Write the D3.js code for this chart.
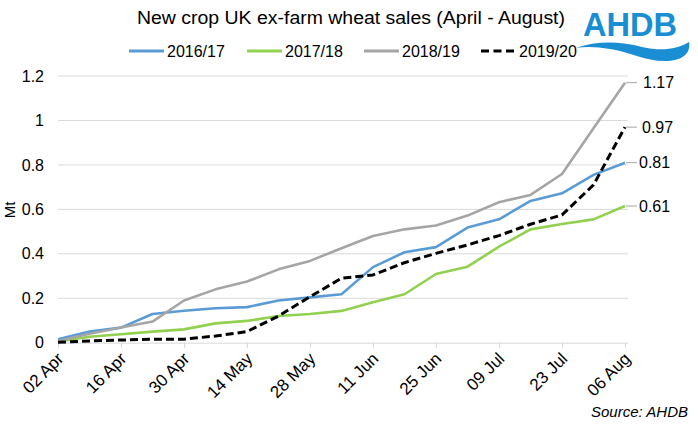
<!DOCTYPE html>
<html lang="en">
<head>
<meta charset="UTF-8">
<title>New crop UK ex-farm wheat sales</title>
<script src="https://d3js.org/d3.v7.min.js"></script>
<style>
    body { margin: 0; padding: 0; background: #fff; }
    svg { display: block; font-family: 'Liberation Sans', Arial, sans-serif; }
</style>
</head>
<body>
<svg id="chart" width="698" height="432"></svg>
<script>
    // weekly dates, 02 Apr to 06 Aug
    const weeks = ["02 Apr", "09 Apr", "16 Apr", "23 Apr", "30 Apr", "07 May", "14 May", "21 May",
        "28 May", "04 Jun", "11 Jun", "18 Jun", "25 Jun", "02 Jul", "09 Jul", "16 Jul",
        "23 Jul", "30 Jul", "06 Aug"];
    const tickLabels = ["02 Apr", "16 Apr", "30 Apr", "14 May", "28 May", "11 Jun", "25 Jun", "09 Jul", "23 Jul", "06 Aug"];
    const yTicks = [0, 0.2, 0.4, 0.6, 0.8, 1, 1.2];

    const sales1617 = [0.015, 0.05, 0.068, 0.129, 0.144, 0.155, 0.16, 0.19, 0.204, 0.218,
        0.34, 0.407, 0.43, 0.518, 0.555, 0.638, 0.672, 0.755, 0.81];
    const sales1718 = [0.005, 0.027, 0.038, 0.05, 0.06, 0.087, 0.098, 0.12, 0.129, 0.143,
        0.182, 0.218, 0.309, 0.342, 0.432, 0.51, 0.534, 0.555, 0.615];
    const sales1819 = [0.008, 0.04, 0.068, 0.095, 0.19, 0.24, 0.275, 0.33, 0.368, 0.425,
        0.48, 0.51, 0.527, 0.572, 0.632, 0.665, 0.759, 0.965, 1.17];
    const sales1920 = [0.002, 0.008, 0.012, 0.016, 0.016, 0.03, 0.05, 0.12, 0.207, 0.29,
        0.305, 0.36, 0.402, 0.44, 0.482, 0.533, 0.575, 0.71, 0.97];

    const seriesNames = ["2016/17", "2017/18", "2018/19", "2019/20"];
    const endLabels = ["0.81", "0.61", "1.17", "0.97"];

    const series = [
        { name: seriesNames[0], values: sales1617, color: "#5b9bd5", dash: null, label: endLabels[0] },
        { name: seriesNames[1], values: sales1718, color: "#92d050", dash: null, label: endLabels[1] },
        { name: seriesNames[2], values: sales1819, color: "#a5a5a5", dash: null, label: endLabels[2] },
        { name: seriesNames[3], values: sales1920, color: "#000000", dash: "8,4", label: endLabels[3] }
    ];

    const svg = d3.select("#chart");

    const x = d3.scalePoint().domain(weeks).range([58, 625]);
    const y = d3.scaleLinear().domain([0, 1.2]).range([342.7, 76]);

    // gridlines
    svg.append("g").selectAll("line")
        .data(yTicks.filter(d => d > 0))
        .enter().append("line")
        .attr("x1", 58).attr("x2", 628)
        .attr("y1", d => y(d)).attr("y2", d => y(d))
        .attr("stroke", "#d9d9d9").attr("stroke-width", 1);

    // y axis labels
    const yAxis = d3.axisLeft(y).tickValues(yTicks).tickSize(0).tickPadding(0)
        .tickFormat(d => d3.format("")(d));
    svg.append("g")
        .attr("transform", "translate(44,0)")
        .call(yAxis)
        .call(g => g.select(".domain").remove())
        .call(g => g.selectAll("text")
            .attr("font-size", 16).attr("fill", "#000")
            .attr("font-family", "'Liberation Sans', Arial, sans-serif"));

    svg.append("text")
        .attr("transform", "translate(15,210) rotate(-90)")
        .attr("text-anchor", "middle")
        .attr("font-size", 15)
        .text("Mt");

    // x axis
    const xAxis = d3.axisBottom(x).tickValues(tickLabels).tickSize(5).tickSizeOuter(0);
    const xg = svg.append("g")
        .attr("transform", "translate(0," + y(0) + ")")
        .call(xAxis);
    xg.select(".domain").attr("stroke", "#d9d9d9").attr("d", "M58,0.5H628");
    xg.selectAll(".tick line").attr("stroke", "#d9d9d9");
    xg.selectAll(".tick text")
        .attr("font-size", 17)
        .attr("font-family", "'Liberation Sans', Arial, sans-serif")
        .attr("fill", "#000")
        .attr("text-anchor", "end")
        .attr("dy", null)
        .attr("y", 0)
        .attr("transform", "translate(6,17) rotate(-45)");

    // lines
    const line = d3.line()
        .x((d, i) => x(weeks[i]))
        .y(d => y(d));

    svg.append("g").selectAll("path")
        .data(series)
        .enter().append("path")
        .attr("d", d => line(d.values))
        .attr("fill", "none")
        .attr("stroke", d => d.color)
        .attr("stroke-width", d => d.dash ? 3 : 2.6)
        .attr("stroke-dasharray", d => d.dash)
        .attr("stroke-linejoin", "round");

    // end value labels with leader lines
    const lastWeek = weeks[weeks.length - 1];
    const labels = svg.append("g").selectAll("g")
        .data(series)
        .enter().append("g");
    labels.append("line")
        .attr("x1", x(lastWeek) + 1)
        .attr("x2", x(lastWeek) + 12)
        .attr("y1", d => y(d.values[d.values.length - 1]))
        .attr("y2", d => y(d.values[d.values.length - 1]))
        .attr("stroke", "#a5a5a5").attr("stroke-width", 1);
    labels.append("text")
        .attr("x", d => x(lastWeek) + (d.name === "2018/19" ? 18 : d.name === "2019/20" ? 17 : 14))
        .attr("y", d => y(d.values[d.values.length - 1]))
        .attr("dy", "0.35em")
        .attr("font-size", 16)
        .text(d => d.label);

    // title
    svg.append("text")
        .attr("x", 137).attr("y", 24)
        .attr("font-size", 17.5)
        .attr("textLength", 428)
        .attr("lengthAdjust", "spacingAndGlyphs")
        .text("New crop UK ex-farm wheat sales (April - August)");

    // legend
    const legendX = [129, 247, 364, 481];
    const legend = svg.append("g").selectAll("g")
        .data(series)
        .enter().append("g")
        .attr("transform", (d, i) => "translate(" + legendX[i] + ",51)");
    legend.append("line")
        .attr("x1", 0).attr("x2", 35)
        .attr("stroke", d => d.color)
        .attr("stroke-width", 3)
        .attr("stroke-dasharray", d => d.dash ? "8,4.5" : null);
    legend.append("text")
        .attr("x", 38)
        .attr("dy", "0.35em")
        .attr("font-size", 16)
        .text(d => d.name);

    // AHDB logo
    const logo = svg.append("g");
    logo.append("text")
        .attr("x", 630).attr("y", 36)
        .attr("text-anchor", "middle")
        .attr("font-size", 33)
        .attr("font-weight", "bold")
        .attr("fill", "#1a8ed2")
        .attr("textLength", 94)
        .attr("lengthAdjust", "spacingAndGlyphs")
        .text("AHDB");
    logo.append("path")
        .attr("d", "M576,48 C598,40 622,42 642,47 C660,51 676,50 689,42 C691,52 684,60 668,61 C646,62 630,52 610,49 C598,47 587,46 576,48 Z")
        .attr("fill", "#1a8ed2");

    // source
    svg.append("text")
        .attr("x", 688).attr("y", 417)
        .attr("text-anchor", "end")
        .attr("font-size", 15)
        .attr("font-style", "italic")
        .text("Source: AHDB");
</script>
</body>
</html>
